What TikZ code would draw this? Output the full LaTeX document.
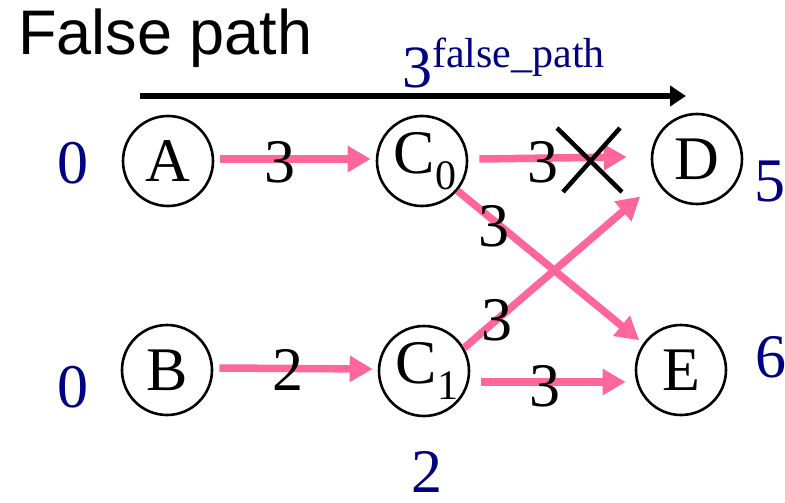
\documentclass[tikz,border=0pt]{standalone}
\usepackage{fontspec}
\setmainfont{Liberation Serif}
\newfontfamily\arialfont{Liberation Sans}
\usetikzlibrary{arrows.meta,shapes.geometric}
\definecolor{pinkedge}{RGB}{255,102,153}
\definecolor{navyblue}{RGB}{0,0,128}
\tikzset{
  vtx/.style={ellipse,draw=black,line width=2.6pt,minimum width=90pt,minimum height=90pt,inner sep=0pt,font=\fontsize{62}{62}\selectfont},
  edge/.style={draw=pinkedge,line width=7.5pt,-{Triangle[length=23pt,width=25pt]}},
  wlbl/.style={inner sep=0pt,font=\fontsize{62}{62}\selectfont,text=black},
  blbl/.style={inner sep=0pt,font=\fontsize{62}{62}\selectfont,text=navyblue},
  xmark/.style={draw=black,line width=4.5pt},
}
\newcommand{\subd}[1]{\raisebox{-16pt}{\fontsize{42}{42}\selectfont #1}}
\begin{document}
\begin{tikzpicture}[x=1pt,y=-1pt]
\useasboundingbox (0,0) rectangle (785,503);
% title
\node[anchor=base west,inner sep=0pt,font=\arialfont\fontsize{63}{63}\selectfont] (title) at (18,55) {False path};
% top arrow
\coordinate (ts) at (140,96);
\coordinate (te) at (686,96);
\draw[line width=6.5pt,-{Triangle[length=16pt,width=20pt]}] (ts) -- (te);
\node[anchor=base west,inner sep=0pt,text=navyblue] (fp) at (402,88) {{\fontsize{60}{60}\selectfont 3}\raisebox{20pt}{\fontsize{42}{42}\selectfont false\_path}};
% nodes
\node[vtx] (A) at (168,161) {\makebox[0pt]{A}};
\node[vtx] (C0) at (422,161) {\makebox[0pt]{\hspace*{6pt}C\subd{0}}};
\node[vtx] (D) at (697,159) {\makebox[0pt]{D}};
\node[vtx] (B) at (167,370) {\makebox[0pt]{B}};
\node[vtx] (C1) at (424,371) {\makebox[0pt]{\hspace*{6pt}C\subd{1}}};
\node[vtx] (E) at (681,370) {\makebox[0pt]{E}};
% edges
\draw[edge] ([xshift=6pt,yshift=2pt]A.east) -- ([xshift=-5pt,yshift=2pt]C0.west);
\draw[edge] ([xshift=11pt,yshift=2pt]C0.east) -- ([xshift=-24pt,yshift=2pt]D.west);
\draw[edge,shorten >=5pt] (C0.-40) -- (E.145);
\draw[edge,shorten >=22pt] (C1.30) -- (D.210);
\draw[edge] ([xshift=6pt,yshift=2pt]B.east) -- ([xshift=-5pt,yshift=2pt]C1.west);
\draw[edge] ([xshift=11pt,yshift=-11pt]C1.east) -- ([xshift=-9pt,yshift=-12pt]E.west);
% edge labels
\node[wlbl] (l1) at (280,162) {3};
\node[wlbl] (l2) at (543,162) {3};
\node[wlbl] (l3) at (494,226) {3};
\node[wlbl] (l4) at (497,320) {3};
\node[wlbl] (l5) at (288,370) {2};
\node[wlbl] (l6) at (545,386) {3};
% cross mark
\coordinate (x1) at (557,128);
\coordinate (x2) at (622,192);
\coordinate (x3) at (620,128);
\coordinate (x4) at (563,192);
\draw[xmark] (x1) -- (x2);
\draw[xmark] (x3) -- (x4);
% arrival times
\node[blbl] (tA) at (73,163) {0};
\node[blbl] (tB) at (73,387) {0};
\node[blbl] (tD) at (770,182) {5};
\node[blbl] (tE) at (771,357) {6};
\node[blbl] (tC) at (427,472) {2};
\end{tikzpicture}
\end{document}
